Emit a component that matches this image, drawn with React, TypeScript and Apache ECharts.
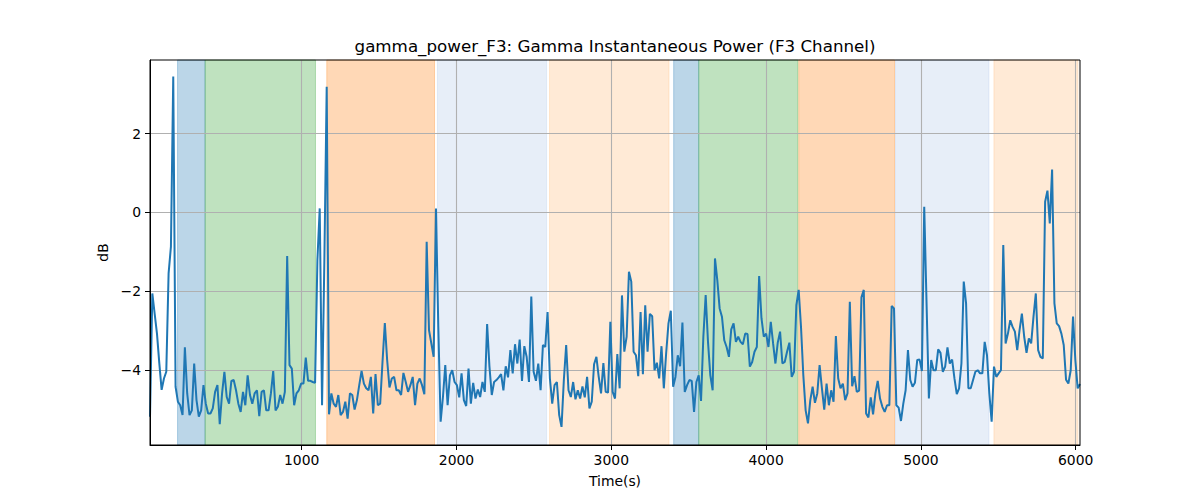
import React, { useEffect, useRef } from "react";
import * as echarts from "echarts";

const TITLE = "gamma_power_F3: Gamma Instantaneous Power (F3 Channel)";
const X_NAME = "Time(s)";
const Y_NAME = "dB";

// uniform sampling of the recording
const START_TIME = 20;
const SAMPLE_PERIOD = 15.02;

// gamma power (dB), one value per sample
const powerDb = [
  -5.19, -2.06, -2.57, -3.08, -3.83, -4.51, -4.22, -4.05, -1.55, -0.87,
  3.45, -4.43, -4.81, -4.9, -5.15, -3.43, -4.6, -5.15, -5.03, -3.84,
  -4.77, -5.19, -5.03, -4.39, -4.86, -5.11, -5.11, -4.98, -4.56, -4.39,
  -5.38, -4.6, -4.05, -4.69, -4.86, -4.28, -4.26, -4.52, -4.86, -5.07,
  -4.56, -4.9, -4.14, -4.64, -4.86, -4.6, -4.52, -5.18, -4.56, -4.52,
  -5.03, -5.03, -4.6, -4.03, -5.03, -4.94, -4.64, -4.86, -4.56, -1.11,
  -3.88, -3.97, -4.9, -4.6, -4.52, -4.35, -4.35,

  -3.69, -4.28, -4.28, -4.31, -4.33, -1.21, 0.1, -4.9, -1.21, 3.19,
  -5.13, -4.6, -4.86, -4.94, -4.64, -5.15, -5.07, -4.81, -5.24, -4.6,
  -4.64, -5.01, -4.77, -4.39, -4.03, -4.35, -4.47, -4.52, -4.18, -5.11,
  -4.11, -4.9, -4.86, -3.8, -2.81, -3.75, -4.45, -4.22, -4.18, -4.52,
  -4.52, -4.64, -4.08, -4.31, -4.56, -4.39, -4.18, -4.9, -4.35, -4.22,
  -4.39, -4.62, -0.75, -2.99, -3.33, -3.67, 0.1, -2.91, -5.32, -4.69,
  -3.88, -4.9, -4.14, -4.01, -4.31, -4.39, -4.7,

  -4.09, -4.77, -4.92, -3.97, -4.86, -4.33, -4.73, -4.5, -4.69, -4.31,
  -4.56, -2.84, -3.92, -4.64, -4.31, -4.26, -4.19, -4.11, -4.52, -3.91,
  -4.19, -3.5, -4.09, -3.35, -3.84, -3.23, -4.28, -3.4, -3.67, -4.31,
  -2.14, -4.05, -4.28, -3.84, -4.52, -3.37, -3.42, -2.53, -4.22, -4.86,
  -4.39, -4.31, -5.15, -5.45, -4.26, -3.37, -4.52, -4.69, -4.31, -4.75,
  -4.52, -4.73, -4.42, -4.7, -4.18, -4.98, -4.81, -3.86, -3.67, -4.18,
  -4.6, -3.83, -4.56, -4.58, -2.78, -4.56, -4.73,

  -3.6, -4.47, -2.11, -3.54, -3.16, -1.51, -1.76, -3.54, -3.63, -4.16,
  -2.53, -4.11, -2.36, -3.54, -2.58, -2.64, -4.01, -3.82, -4.22, -3.4,
  -4.47, -3.58, -2.82, -2.5, -4.43, -4.18, -3.63, -3.91, -2.8, -4.56,
  -4.39, -4.26, -4.28, -5.07, -4.31, -4.14, -4.79, -3.16, -2.1, -3.29,
  -4.14, -4.52, -1.17, -1.72, -2.44, -2.65, -3.25, -3.42, -3.67, -2.97,
  -2.82, -3.29, -3.16, -3.29, -3.35, -3.08, -3.09, -3.92, -3.8, -3.54,
  -3.42, -1.62, -2.69, -3.16, -3.08, -3.42,

  -2.78, -3.33, -3.84, -3.31, -3.03, -3.84, -3.8, -3.54, -3.31, -4.18,
  -4.05, -2.36, -1.97, -2.91, -4.14, -5.03, -5.36, -4.77, -4.43, -4.84,
  -4.6, -3.88, -4.47, -5.01, -4.35, -4.9, -4.52, -4.81, -3.14, -4.22,
  -4.47, -4.35, -4.77, -4.6, -2.27, -4.42, -4.16, -4.56, -4.53, -2.16,
  -1.97, -5.11, -5.21, -4.7, -5.13, -4.6, -4.28, -4.73, -4.94, -5.07,
  -4.9, -4.9, -2.38, -2.44, -4.9, -4.96, -5.3, -4.86, -4.52, -3.5,
  -4.26, -4.43, -4.33, -3.75, -3.74, -4.03, 0.14,

  -2.31, -4.73, -3.75, -4.01, -4.01, -3.48, -3.57, -4.05, -3.92, -3.43,
  -3.84, -3.74, -4.22, -4.62, -4.47, -3.84, -1.76, -2.31, -4.47, -4.47,
  -4.26, -4.05, -4.01, -4.09, -4.09, -3.29, -3.63, -4.6, -5.32, -3.92,
  -4.18, -4.09, -4.01, -0.83, -3.33, -3.08, -2.74, -2.91, -3.03, -3.5,
  -2.99, -2.57, -3.16, -3.57, -3.2, -3.33, -2.65, -2.06, -3.5, -3.67,
  -3.71, 0.27, 0.55, -0.28, 1.09, -2.31, -2.82, -2.89, -3.08, -3.37,
  -4.25, -4.35, -4.01, -2.65, -3.75, -4.47, -4.36,
];

const X_MIN = 20;
const X_MAX = 6028;
const Y_MIN = -5.91;
const Y_MAX = 3.87;
const xTicks = [1000, 2000, 3000, 4000, 5000, 6000];
const yTicks = [-4, -2, 0, 2];

// shaded stages
const spanStart = [198, 376, 1162, 1877, 2601, 3403, 3565, 4211, 4836, 5472];
const spanEnd = [376, 1089, 1858, 2582, 3373, 3565, 4205, 4830, 5440, 6015];
const spanKind = [
  "blue", "green", "orange", "lightblue", "lightorange",
  "blue", "green", "orange", "lightblue", "lightorange",
];
const kindColor: Record<string, string> = {
  blue: "rgba(31,119,180,0.3)",
  green: "rgba(44,160,44,0.3)",
  orange: "rgba(255,127,14,0.3)",
  lightblue: "rgba(174,199,232,0.3)",
  lightorange: "rgba(255,187,120,0.3)",
};

const FONT = "DejaVu Sans";

export default function App() {
  const ref = useRef<HTMLDivElement>(null);

  useEffect(() => {
    if (!ref.current) return;
    const chart = echarts.init(ref.current, null, { renderer: "svg" });

    const lineData = powerDb.map((v, i) => [START_TIME + i * SAMPLE_PERIOD, v]);
    const areas = spanStart.map((s, i) => [
      {
        xAxis: s,
        itemStyle: {
          color: kindColor[spanKind[i]],
          borderColor: kindColor[spanKind[i]],
          borderWidth: 1,
        },
      },
      { xAxis: spanEnd[i] },
    ]);
    const gridLines = [
      ...xTicks.map((t) => ({ xAxis: t })),
      ...yTicks.map((t) => ({ yAxis: t })),
    ];
    const fmt = (v: number) => String(v).replace("-", "\u2212");

    chart.setOption({
      animation: false,
      backgroundColor: "#ffffff",
      grid: {
        left: 150,
        right: 120,
        top: 60,
        bottom: 55,
        containLabel: false,
        show: true,
        borderColor: "#000000",
        borderWidth: 1,
        backgroundColor: "transparent",
        z: 10,
      },
      graphic: [
        {
          type: "text",
          x: 615,
          y: 46,
          style: {
            text: TITLE,
            font: `16.7px "${FONT}"`,
            fill: "#000000",
            textAlign: "center",
            textVerticalAlign: "middle",
          },
        },
      ],
      xAxis: {
        type: "value",
        min: X_MIN,
        max: X_MAX,
        z: 10,
        name: X_NAME,
        nameLocation: "middle",
        nameGap: 29,
        nameTextStyle: { color: "#000", fontSize: 13.9, fontFamily: FONT },
        axisLine: { show: true, onZero: false, lineStyle: { color: "#000", width: 1 } },
        axisTick: {
          show: true,
          inside: false,
          length: 5,
          customValues: xTicks,
          lineStyle: { color: "#000", width: 1 },
        },
        axisLabel: {
          show: true,
          customValues: xTicks,
          margin: 8,
          color: "#000",
          fontSize: 13.9,
          fontFamily: FONT,
          formatter: (v: number) => fmt(v),
        },
        splitLine: { show: false },
      },
      yAxis: {
        type: "value",
        min: Y_MIN,
        max: Y_MAX,
        z: 10,
        name: Y_NAME,
        nameLocation: "middle",
        nameGap: 33,
        nameTextStyle: { color: "#000", fontSize: 13.9, fontFamily: FONT },
        axisLine: { show: true, onZero: false, lineStyle: { color: "#000", width: 1 } },
        axisTick: {
          show: true,
          inside: false,
          length: 5,
          customValues: yTicks,
          lineStyle: { color: "#000", width: 1 },
        },
        axisLabel: {
          show: true,
          customValues: yTicks,
          margin: 9,
          color: "#000",
          fontSize: 13.9,
          fontFamily: FONT,
          formatter: (v: number) => fmt(v),
        },
        splitLine: { show: false },
      },
      series: [
        {
          type: "line",
          data: [],
          silent: true,
          z: 1,
          markArea: {
            silent: true,
            z: 1,
            label: { show: false },
            data: areas,
          },
        },
        {
          type: "line",
          data: [],
          silent: true,
          z: 2,
          markLine: {
            silent: true,
            z: 2,
            symbol: ["none", "none"],
            label: { show: false },
            lineStyle: { color: "#b0b0b0", width: 1.1, type: "solid" },
            emphasis: { disabled: true },
            data: gridLines,
          },
        },
        {
          type: "line",
          data: lineData,
          z: 3,
          showSymbol: false,
          symbol: "none",
          lineStyle: { color: "#1f77b4", width: 2 },
          itemStyle: { color: "#1f77b4" },
          emphasis: { disabled: true },
          clip: true,
        },
      ],
    });

    return () => chart.dispose();
  }, []);

  return (
    <div
      ref={ref}
      style={{ position: "absolute", left: 0, top: 0, width: 1200, height: 500 }}
    />
  );
}
